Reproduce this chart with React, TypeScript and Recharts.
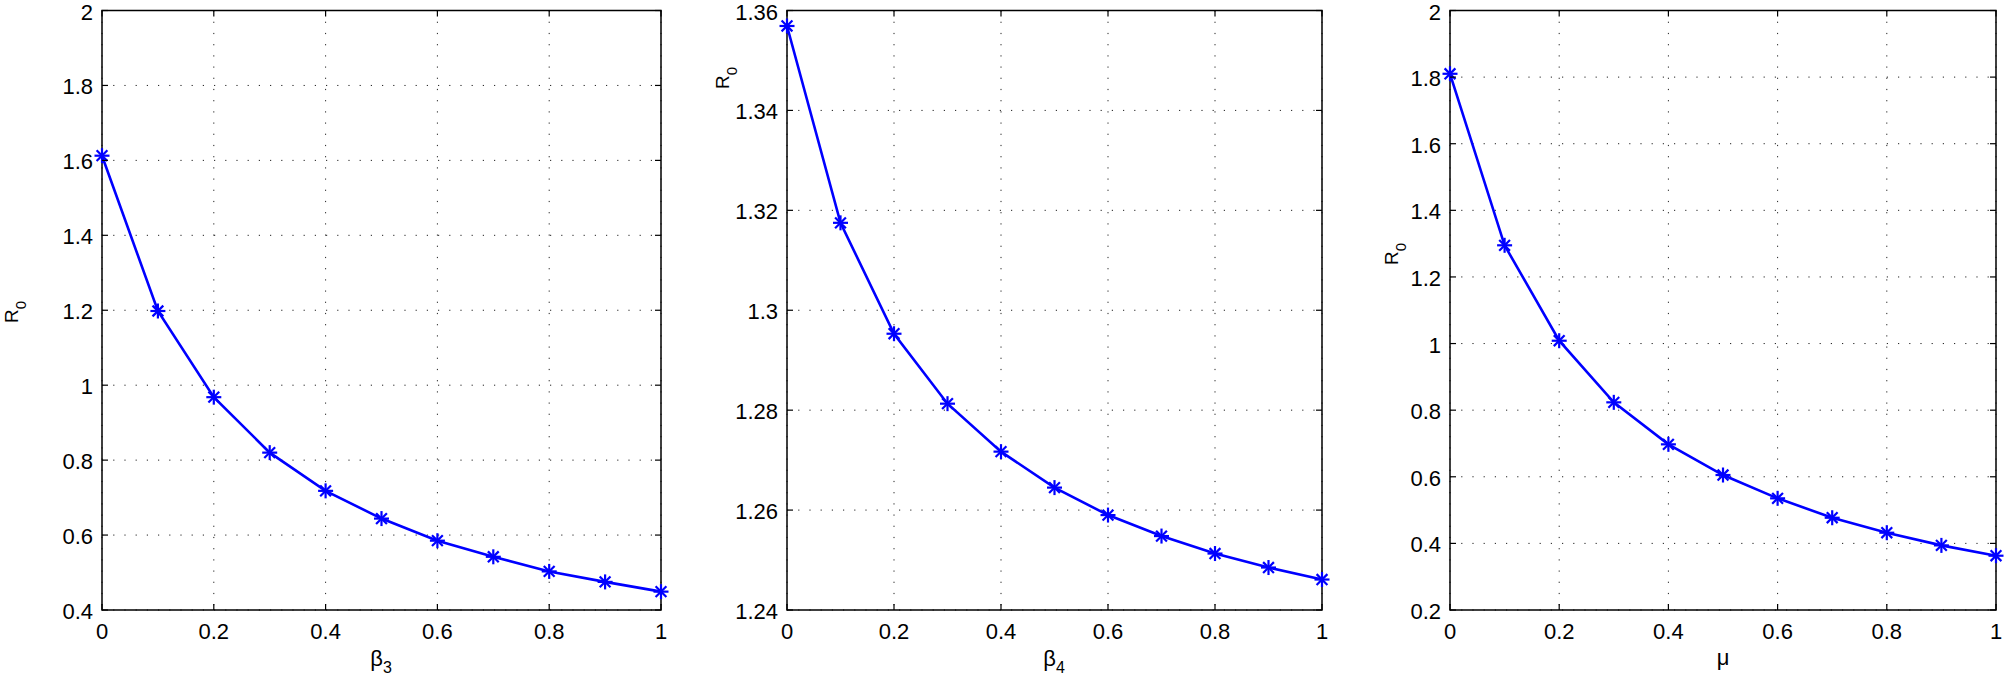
import React from "react";
import { LineChart, Line, XAxis, YAxis, CartesianGrid, ReferenceArea } from "recharts";

const xValues = [0, 0.1, 0.2, 0.3, 0.4, 0.5, 0.6, 0.7, 0.8, 0.9, 1];
const beta3R0 = [1.6125, 1.198, 0.968, 0.82, 0.718, 0.644, 0.585, 0.542, 0.503, 0.475, 0.449];
const beta4R0 = [1.3569, 1.3175, 1.2953, 1.2813, 1.2717, 1.2645, 1.259, 1.2548, 1.2513, 1.2485, 1.2461];
const muR0 = [1.81, 1.295, 1.0085, 0.8235, 0.6974, 0.6053, 0.5353, 0.477, 0.432, 0.394, 0.363];

const xTicks = [0, 0.2, 0.4, 0.6, 0.8, 1];
const yTicks1 = [0.4, 0.6, 0.8, 1, 1.2, 1.4, 1.6, 1.8, 2];
const yTicks2 = [1.24, 1.26, 1.28, 1.3, 1.32, 1.34, 1.36];
const yTicks3 = [0.2, 0.4, 0.6, 0.8, 1, 1.2, 1.4, 1.6, 1.8, 2];

const FONT = "'Liberation Sans', Arial, Helvetica, sans-serif";
const PLOT_TOP = 10.5;
const PLOT_BOTTOM = 610;
const PLOT_H = PLOT_BOTTOM - PLOT_TOP;

const Star = (props: any) => {
  const { cx, cy, index } = props;
  if (cx == null || cy == null) return <g key={index} />;
  const r = 7.5;
  const d = r * 0.72;
  return (
    <g key={`s${index}`} stroke="#0000ff" strokeWidth={2.2} strokeLinecap="butt">
      <line x1={cx - r} y1={cy} x2={cx + r} y2={cy} />
      <line x1={cx} y1={cy - r} x2={cx} y2={cy + r} />
      <line x1={cx - d} y1={cy - d} x2={cx + d} y2={cy + d} />
      <line x1={cx - d} y1={cy + d} x2={cx + d} y2={cy - d} />
    </g>
  );
};

function Panel({
  values,
  yTicks,
  plotLeft,
  plotRight,
}: {
  values: number[];
  yTicks: number[];
  plotLeft: number;
  plotRight: number;
}) {
  const data = xValues.map((x, i) => ({ x, r: values[i] }));
  const plotW = plotRight - plotLeft;
  const ymin = yTicks[0];
  const ymax = yTicks[yTicks.length - 1];
  const marginLeft = 30;
  const yAxisW = 70;
  const left = plotLeft - marginLeft - yAxisW;
  const width = marginLeft + yAxisW + plotW + 12;

  const YTick = (p: any) => {
    const { x, y, payload } = p;
    return (
      <g>
        <text
          x={x - 9}
          y={y + 1.5}
          textAnchor="end"
          dominantBaseline="central"
          fontFamily={FONT}
          fontSize={22}
          fill="#000"
        >
          {String(payload.value)}
        </text>
        <line x1={x} y1={y} x2={x + 6} y2={y} stroke="#000" strokeWidth={1.2} />
        <line x1={x + plotW} y1={y} x2={x + plotW - 6} y2={y} stroke="#000" strokeWidth={1.2} />
      </g>
    );
  };

  const XTick = (p: any) => {
    const { x, y, payload } = p;
    return (
      <g>
        <text
          x={x}
          y={y + 21}
          textAnchor="middle"
          dominantBaseline="central"
          fontFamily={FONT}
          fontSize={22}
          fill="#000"
        >
          {String(payload.value)}
        </text>
        <line x1={x} y1={y} x2={x} y2={y - 6} stroke="#000" strokeWidth={1.2} />
        <line x1={x} y1={y - PLOT_H} x2={x} y2={y - PLOT_H + 6} stroke="#000" strokeWidth={1.2} />
      </g>
    );
  };

  return (
    <div style={{ position: "absolute", left, top: 0 }}>
      <LineChart
        width={width}
        height={680}
        data={data}
        margin={{ top: PLOT_TOP, right: 12, bottom: 10, left: marginLeft }}
        style={{ overflow: "visible" }}
      >
        <CartesianGrid stroke="#222" strokeWidth={1} strokeDasharray="1.2 10" />
        <XAxis
          dataKey="x"
          type="number"
          domain={[0, 1]}
          ticks={xTicks}
          height={60}
          axisLine={false}
          tickLine={false}
          tickSize={0}
          tickMargin={0}
          tick={XTick}
          interval={0}
        />
        <YAxis
          type="number"
          domain={[ymin, ymax]}
          ticks={yTicks}
          width={yAxisW}
          axisLine={false}
          tickLine={false}
          tickSize={0}
          tickMargin={0}
          tick={YTick}
          interval={0}
        />
        <ReferenceArea
          x1={0}
          x2={1}
          y1={ymin}
          y2={ymax}
          fill="none"
          fillOpacity={0}
          stroke="#000"
          strokeWidth={1.5}
        />
        <Line
          dataKey="r"
          stroke="#0000ff"
          strokeWidth={2.6}
          dot={Star}
          activeDot={false}
          isAnimationActive={false}
        />
      </LineChart>
    </div>
  );
}

const labelStyle = { fontFamily: FONT, fill: "#000" } as const;

export default function App() {
  return (
    <div style={{ position: "absolute", left: 0, top: 0, width: 2006, height: 680, background: "#fff" }}>
      <Panel values={beta3R0} yTicks={yTicks1} plotLeft={102} plotRight={661} />
      <Panel values={beta4R0} yTicks={yTicks2} plotLeft={787} plotRight={1322} />
      <Panel values={muR0} yTicks={yTicks3} plotLeft={1450} plotRight={1996} />
      <svg
        width={2006}
        height={680}
        style={{ position: "absolute", left: 0, top: 0, pointerEvents: "none" }}
      >
        <text transform="rotate(-90, 18, 312)" x={18} y={312} textAnchor="middle" fontSize={19} {...labelStyle}>
          R<tspan dy={8} fontSize={15}>0</tspan>
        </text>
        <text transform="rotate(-90, 729, 78)" x={729} y={78} textAnchor="middle" fontSize={19} {...labelStyle}>
          R<tspan dy={8} fontSize={15}>0</tspan>
        </text>
        <text transform="rotate(-90, 1398, 254)" x={1398} y={254} textAnchor="middle" fontSize={19} {...labelStyle}>
          R<tspan dy={8} fontSize={15}>0</tspan>
        </text>
        <text x={381} y={666} textAnchor="middle" fontSize={22} {...labelStyle}>
          β<tspan dy={7} fontSize={16}>3</tspan>
        </text>
        <text x={1054} y={666} textAnchor="middle" fontSize={22} {...labelStyle}>
          β<tspan dy={7} fontSize={16}>4</tspan>
        </text>
        <text x={1723} y={665} textAnchor="middle" fontSize={22} {...labelStyle}>
          μ
        </text>
      </svg>
    </div>
  );
}
